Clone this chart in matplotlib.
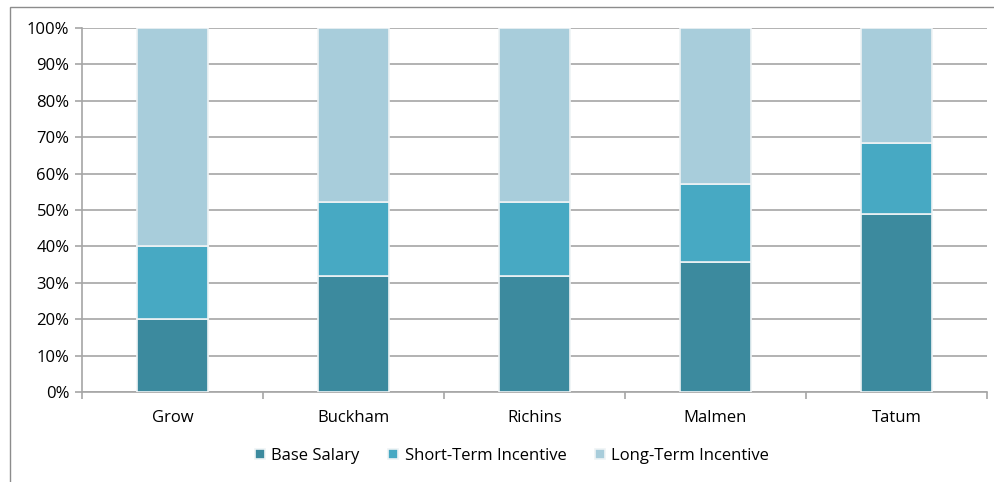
import numpy as np
import matplotlib.pyplot as plt
from matplotlib.patches import Rectangle
from matplotlib.ticker import PercentFormatter, FixedLocator

# data (percent of total pay)
companies = ['Grow', 'Buckham', 'Richins', 'Malmen', 'Tatum']
base_salary = [20.0, 31.8, 31.8, 35.8, 48.8]
short_term = [20.0, 20.5, 20.5, 21.3, 19.6]
long_term = [60.0, 47.7, 47.7, 42.9, 31.6]

series_names = ['Base Salary', 'Short-Term Incentive', 'Long-Term Incentive']
colors = ['#3C8A9E', '#47A9C3', '#A8CDDB']

plt.rcParams['font.family'] = ['Open Sans', 'DejaVu Sans']

fig = plt.figure(figsize=(9.94, 4.82), dpi=100)
ax = fig.add_axes([82 / 994, 1 - 392 / 482, (987 - 82) / 994, (392 - 28) / 482])

x = np.arange(len(companies))
bottom = np.zeros(len(companies))
for vals, name, col in zip([base_salary, short_term, long_term], series_names, colors):
    ax.bar(x, vals, width=0.39, bottom=bottom, color=col, edgecolor='#EEF3F5',
           linewidth=1.2, label=name, zorder=3)
    bottom += np.array(vals)

ax.set_ylim(0, 100)
ax.set_xlim(-0.5, len(companies) - 0.5)
ax.set_yticks(np.arange(0, 101, 10))
ax.yaxis.set_major_formatter(PercentFormatter(decimals=0))
ax.set_xticks(x)
ax.set_xticklabels(companies)
ax.xaxis.set_minor_locator(FixedLocator(np.arange(-0.5, len(companies), 1.0)))

ax.grid(axis='y', color='#A6A6A6', linewidth=1.2, zorder=0)
for s in ['top', 'right']:
    ax.spines[s].set_visible(False)
for s in ['left', 'bottom']:
    ax.spines[s].set_color('#A6A6A6')
    ax.spines[s].set_linewidth(1.2)

ax.tick_params(axis='y', length=5, color='#A6A6A6', width=1.2, labelsize=12, pad=4)
ax.tick_params(axis='x', which='major', length=0, labelsize=12, pad=13)
ax.tick_params(axis='x', which='minor', length=5, color='#A6A6A6', width=1.2)

fig.legend(loc='center', bbox_to_anchor=(512 / 994, 1 - 456 / 482), ncol=3,
           frameon=False, fontsize=12, handlelength=0.6, handleheight=0.6,
           handletextpad=0.4, columnspacing=1.7)

# outer chart border (partially cropped in the reference)
fig.patches.append(Rectangle((9.5 / 994, -0.1), 1.2, 1 - 6.5 / 482 + 0.1,
                             transform=fig.transFigure, fill=False,
                             edgecolor='#8C8C8C', linewidth=1.0))

fig.savefig('out.png', dpi=100, facecolor='white')
